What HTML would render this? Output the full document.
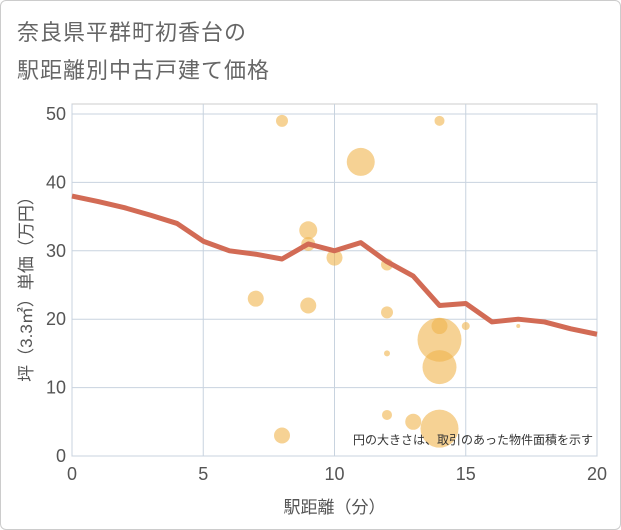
<!DOCTYPE html>
<html><head><meta charset="utf-8"><style>
body{margin:0;background:#fff;font-family:"Liberation Sans","Noto Sans CJK JP",sans-serif}
#wrap{position:relative;width:619px;height:528px;border:1px solid #ccc;border-radius:6px;overflow:hidden;background:#fff}
.t{position:absolute;left:16px;font-size:22px;color:#666;letter-spacing:1px}
</style></head><body>
<div id="wrap">
<div class="t" style="top:14px">奈良県平群町初香台の</div>
<div class="t" style="top:52px">駅距離別中古戸建て価格</div>
<svg id="c" width="621" height="530" style="position:absolute;left:-1px;top:-1px"></svg>
</div>
<script>
const lineX=[0,1,2,3,4,5,6,7,8,9,10,11,12,13,14,15,16,17,18,19,20];
const lineY=[38,37.2,36.3,35.2,34,31.4,30,29.5,28.8,31,30,31.2,28.4,26.3,22,22.3,19.6,20,19.6,18.6,17.8];
const bubX=[8,14,11,9,9,10,12,7,9,12,14,15,17,14,12,14,12,13,14,8];
const bubY=[49,49,43,33,31,29,28,23,22,21,19,19,19,17,15,13,6,5,4,3];
const bubR=[6,5,14,9,7,8,6,8,8,6,8,4,2,22,3,17,5,8,19,8];
const xTicks=[0,5,10,15,20];
const yTicks=[0,10,20,30,40,50];
const NS="http://www.w3.org/2000/svg";
const svg=document.getElementById('c');
const X0=72,X1=597,Y0=456,Y1=114;
const sx=v=>X0+(v-0)/20*(X1-X0);
const sy=v=>Y0-(v/50)*(Y0-Y1);
function mk(t,a){const e=document.createElementNS(NS,t);for(const k in a)e.setAttribute(k,a[k]);svg.appendChild(e);return e;}
const bg=mk('rect',{x:X0,y:Y1-10,width:X1-X0,height:Y0-Y1+10,fill:'#fff',stroke:'#ccc'});


xTicks.forEach(v=>{
const g=mk('line',{x1:sx(v),x2:sx(v),y1:Y1-10,y2:Y0,stroke:'#c8d3df'});


const t=mk('text',{x:sx(v),y:Y0+24,'text-anchor':'middle','font-size':18,fill:'#555'});t.textContent=v;


});
yTicks.forEach(v=>{
const g=mk('line',{x1:X0,x2:X1,y1:sy(v),y2:sy(v),stroke:'#c8d3df'});


const t=mk('text',{x:X0-6,y:sy(v)+6,'text-anchor':'end','font-size':18,fill:'#555'});t.textContent=v;


});
bubX.forEach((v,i)=>{
const c=mk('circle',{cx:sx(v),cy:sy(bubY[i]),r:bubR[i],fill:'#f0b44c','fill-opacity':0.6});


});
const p=mk('polyline',{points:lineX.map((v,i)=>sx(v)+','+sy(lineY[i])).join(' '),fill:'none',stroke:'#d26b55','stroke-width':5,'stroke-linejoin':'round'});


const note=mk('text',{x:593,y:444,'text-anchor':'end','font-size':12,fill:'#333'});note.textContent='円の大きさは、取引のあった物件面積を示す';


const xt=mk('text',{x:(X0+X1)/2,y:513,'text-anchor':'middle','font-size':17,fill:'#555'});xt.textContent='駅距離（分）';


const yt=mk('text',{x:0,y:0,'text-anchor':'middle','font-size':17,fill:'#555',transform:'translate(32,'+((Y0+Y1)/2)+') rotate(-90)'});yt.textContent='坪（3.3㎡）単価（万円）';


</script>
</body></html>
